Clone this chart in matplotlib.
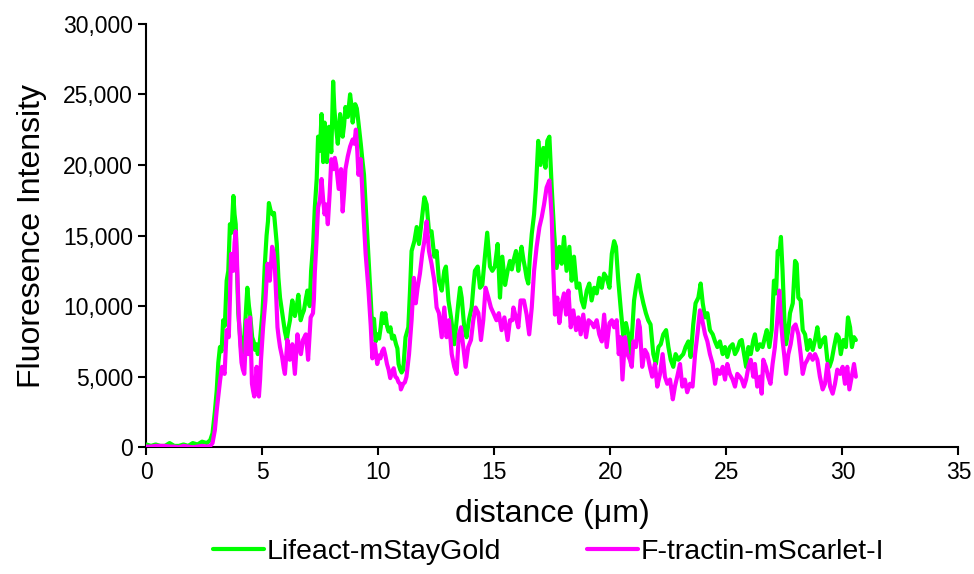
import matplotlib
matplotlib.use("Agg")
import matplotlib.pyplot as plt
from matplotlib.ticker import FuncFormatter
import numpy as np

plt.rcParams['font.family'] = ['Liberation Sans', 'DejaVu Sans']

# ---- data (distance in um, intensity in thousands) ----
green_x = [0, 0.2, 0.4, 0.6, 0.8, 1.0, 1.2, 1.4, 1.6, 1.8, 2.0, 2.2, 2.4, 2.6, 2.75,
           2.85, 2.95, 3.03, 3.1, 3.17, 3.24, 3.31, 3.38, 3.46, 3.53, 3.6, 3.67, 3.75, 3.8, 3.85, 3.9, 3.96,
           4.03, 4.1, 4.18, 4.25, 4.35, 4.42, 4.47, 4.56, 4.62, 4.68, 4.74, 4.8, 4.86, 4.92, 5.0, 5.05, 5.1,
           5.18, 5.24, 5.28, 5.35, 5.43, 5.5, 5.56, 5.62, 5.69, 5.76, 5.83, 5.9, 5.97, 6.05, 6.12, 6.19, 6.24,
           6.29, 6.35, 6.4, 6.48, 6.55, 6.6, 6.65, 6.72, 6.79, 6.87, 6.94, 7.0, 7.04, 7.1, 7.19, 7.26, 7.34,
           7.4, 7.48, 7.55, 7.62, 7.68, 7.73, 7.78, 7.87, 7.97, 8.05, 8.1, 8.15, 8.25, 8.35, 8.46, 8.52, 8.58,
           8.68, 8.78, 8.84, 8.89, 9.0, 9.07, 9.14, 9.24, 9.3, 9.38, 9.48, 9.57, 9.67, 9.74, 9.81, 9.88, 9.95,
           10.03, 10.1, 10.16, 10.23, 10.3, 10.37, 10.44, 10.52, 10.59, 10.67, 10.76, 10.82, 10.87, 10.94,
           11.0, 11.07, 11.17, 11.29, 11.36, 11.43, 11.55, 11.65, 11.75, 11.86, 11.98, 12.08, 12.18, 12.29,
           12.41, 12.51, 12.61, 12.73, 12.84, 12.91, 13.02, 13.13, 13.27, 13.37, 13.45, 13.52, 13.59, 13.7,
           13.8, 13.9, 14.02, 14.1, 14.16, 14.28, 14.38, 14.48, 14.59, 14.69, 14.75, 14.81, 14.91, 15.02,
           15.14, 15.24, 15.34, 15.46, 15.57, 15.67, 15.75, 15.82, 15.93, 16.03, 16.1, 16.17, 16.25, 16.32,
           16.39, 16.46, 16.53, 16.61, 16.71, 16.79, 16.89, 16.99, 17.05, 17.11, 17.2, 17.28, 17.37, 17.47,
           17.57, 17.68, 17.8, 17.9, 18.0, 18.11, 18.23, 18.33, 18.43, 18.55, 18.66, 18.76, 18.86, 18.98,
           19.09, 19.19, 19.3, 19.41, 19.52, 19.63, 19.73, 19.84, 19.96, 20.06, 20.16, 20.24, 20.34, 20.44,
           20.56, 20.67, 20.77, 20.87, 20.95, 21.02, 21.1, 21.2, 21.3, 21.42, 21.53, 21.63, 21.73, 21.85,
           21.96, 22.07, 22.17, 22.28, 22.4, 22.5, 22.6, 22.71, 22.81, 22.93, 23.03, 23.14, 23.24, 23.36,
           23.46, 23.57, 23.67, 23.79, 23.89, 23.98, 24.08, 24.18, 24.29, 24.41, 24.51, 24.61, 24.72, 24.84,
           24.94, 25.04, 25.15, 25.27, 25.37, 25.47, 25.58, 25.66, 25.76, 25.85, 25.95, 26.05, 26.16, 26.23,
           26.33, 26.45, 26.56, 26.66, 26.74, 26.85, 26.95, 27.05, 27.14, 27.21, 27.28, 27.35, 27.42, 27.5,
           27.57, 27.67, 27.74, 27.86, 27.96, 28.03, 28.1, 28.2, 28.29, 28.39, 28.49, 28.6, 28.72, 28.82,
           28.92, 29.03, 29.15, 29.25, 29.35, 29.44, 29.54, 29.64, 29.75, 29.84, 29.93, 30.04, 30.15, 30.24,
           30.33, 30.41, 30.5, 30.58]
green_k = [0.2, 0.1, 0.2, 0.1, 0.1, 0.3, 0.1, 0.1, 0.2, 0.1, 0.3, 0.2, 0.4, 0.3, 0.5,
           1.0, 2.5, 4.0, 6.0, 7.1, 6.8, 9.0, 8.6, 11.8, 12.5, 15.8, 15.2, 17.8, 16.5, 15.8, 13.0, 9.5,
           8.0, 6.6, 7.0, 8.5, 11.3, 10.0, 9.4, 7.8, 7.5, 6.9, 7.3, 6.6, 7.0, 8.0, 9.5, 11.0, 12.8,
           15.0, 16.0, 17.3, 16.8, 16.5, 16.6, 15.5, 14.4, 12.0, 10.6, 9.8, 9.0, 8.2, 7.6, 8.4, 9.0, 9.8,
           10.4, 9.8, 9.3, 10.0, 10.8, 9.8, 9.0, 9.4, 9.7, 10.5, 11.1, 10.5, 10.0, 12.5, 14.4, 17.0, 19.0,
           22.0, 21.0, 23.6, 20.2, 23.0, 21.5, 20.2, 22.7, 20.9, 25.9, 24.0, 23.0, 21.5, 23.6, 22.0, 22.8, 24.1,
           23.4, 25.0, 24.2, 23.0, 24.3, 24.0, 23.0, 21.5, 20.5, 19.3, 16.3, 13.7, 10.5, 8.2, 9.1, 7.5, 8.0,
           7.7, 8.5, 9.5, 8.8, 9.5, 8.6, 8.2, 8.5, 7.7, 7.9, 7.3, 7.0, 5.9, 5.5,
           5.3, 5.5, 7.8, 8.5, 11.0, 13.9, 14.6, 15.6, 14.4, 16.0, 17.7, 17.2, 15.3, 15.3,
           13.5, 13.9, 11.8, 11.1, 12.5, 12.8, 10.4, 9.2, 7.3, 9.0, 10.3, 11.3, 10.6, 8.5,
           7.8, 9.0, 9.9, 11.5, 12.5, 12.8, 11.3, 11.5, 13.5, 15.2, 14.0, 12.8, 12.5, 12.8,
           14.4, 10.6, 13.5, 11.5, 12.5, 13.2, 12.6, 13.2, 13.9, 12.5, 13.5, 14.2, 13.3, 12.7,
           12.0, 11.6, 13.5, 15.1, 16.5, 18.4, 21.7, 20.0, 20.6, 21.2, 19.8, 21.7, 22.0, 18.4,
           15.3, 12.7, 14.2, 13.0, 14.9, 12.5, 14.2, 11.8, 13.5, 11.3, 11.6, 10.4, 9.9, 11.1,
           11.6, 10.4, 11.3, 10.9, 12.0, 11.3, 12.3, 12.0, 11.3, 13.7, 14.6, 14.2, 11.8, 9.9,
           7.8, 8.8, 8.0, 6.6, 8.5, 10.4, 11.3, 12.2, 11.1, 10.2, 9.5, 9.0, 8.7, 6.6,
           5.9, 7.1, 7.3, 8.0, 8.3, 7.1, 6.2, 5.7, 6.6, 6.2, 6.4, 6.6, 7.1, 7.5,
           6.4, 8.7, 10.2, 10.6, 11.6, 10.2, 9.2, 9.5, 8.3, 8.0, 7.5, 7.1, 7.5, 6.6,
           7.1, 6.4, 7.1, 7.3, 6.6, 6.9, 7.5, 7.6, 6.6, 5.7, 7.1, 6.6, 7.6, 8.0,
           6.9, 7.3, 7.1, 7.8, 8.3, 7.1, 8.3, 11.8, 10.9, 13.9, 13.7, 14.9, 12.5, 9.0,
           7.3, 8.3, 9.5, 10.2, 13.2, 13.0, 10.6, 10.4, 8.3, 8.0, 6.9, 7.6, 6.9, 7.6,
           8.5, 7.1, 7.6, 7.8, 6.2, 5.7, 6.2, 7.1, 8.0, 7.8, 6.6, 7.6, 7.1, 9.2,
           8.5, 7.1, 7.8, 7.6]

magenta_x = [0, 0.2, 0.4, 0.6, 0.8, 1.0, 1.2, 1.4, 1.6, 1.8, 2.0, 2.2, 2.4, 2.6, 2.75,
             2.85, 2.95, 3.03, 3.1, 3.18, 3.26, 3.31, 3.37, 3.42, 3.46, 3.55, 3.6, 3.65, 3.7, 3.75, 3.8,
             3.85, 3.9, 3.93, 3.99, 4.05, 4.1, 4.16, 4.22, 4.27, 4.32, 4.36, 4.4, 4.44, 4.47, 4.51, 4.55,
             4.6, 4.65, 4.7, 4.75, 4.8, 4.85, 4.9, 4.94, 5.03, 5.13, 5.18, 5.22, 5.27, 5.32, 5.37, 5.42,
             5.48, 5.53, 5.6, 5.65, 5.7, 5.76, 5.85, 5.92, 5.97, 6.03, 6.08, 6.13, 6.18, 6.24, 6.29, 6.35,
             6.4, 6.45, 6.51, 6.58, 6.66, 6.75, 6.87, 6.93, 6.97, 7.03, 7.08, 7.18, 7.22, 7.26, 7.33, 7.4,
             7.48, 7.55, 7.62, 7.68, 7.75, 7.82, 7.9, 7.97, 8.06, 8.12, 8.18, 8.29, 8.39, 8.46, 8.52, 8.58,
             8.68, 8.78, 8.89, 8.96, 9.03, 9.09, 9.14, 9.24, 9.34, 9.45, 9.57, 9.67, 9.74, 9.8, 9.85, 9.95,
             10.02, 10.09, 10.16, 10.23, 10.3, 10.37, 10.44, 10.51, 10.58, 10.66, 10.73, 10.8, 10.87, 10.94,
             10.97, 11.07, 11.14, 11.21, 11.32, 11.43, 11.53, 11.61, 11.69, 11.79, 11.89, 11.98, 12.08, 12.18,
             12.29, 12.41, 12.51, 12.61, 12.73, 12.84, 12.94, 13.04, 13.16, 13.27, 13.37, 13.47, 13.56, 13.66,
             13.76, 13.87, 13.99, 14.09, 14.19, 14.31, 14.42, 14.52, 14.62, 14.74, 14.85, 14.96, 15.09, 15.19,
             15.31, 15.43, 15.57, 15.67, 15.77, 15.82, 15.93, 16.03, 16.13, 16.27, 16.39, 16.5, 16.61, 16.71,
             16.82, 16.94, 17.04, 17.14, 17.25, 17.37, 17.47, 17.54, 17.61, 17.71, 17.8, 17.9, 18.0, 18.09,
             18.19, 18.29, 18.4, 18.52, 18.62, 18.72, 18.83, 18.95, 19.06, 19.19, 19.29, 19.41, 19.52, 19.63,
             19.73, 19.84, 19.96, 20.06, 20.16, 20.27, 20.36, 20.44, 20.52, 20.63, 20.73, 20.84, 20.92, 20.99,
             21.1, 21.2, 21.27, 21.37, 21.49, 21.59, 21.7, 21.8, 21.92, 22.02, 22.14, 22.25, 22.35, 22.45,
             22.57, 22.69, 22.78, 22.88, 23.0, 23.1, 23.21, 23.31, 23.43, 23.54, 23.65, 23.75, 23.86, 23.96,
             24.08, 24.18, 24.29, 24.41, 24.51, 24.61, 24.72, 24.84, 24.94, 25.04, 25.15, 25.27, 25.37, 25.47,
             25.58, 25.66, 25.76, 25.85, 25.95, 26.05, 26.16, 26.23, 26.33, 26.45, 26.52, 26.59, 26.7, 26.8,
             26.9, 26.99, 27.09, 27.19, 27.28, 27.35, 27.42, 27.5, 27.57, 27.67, 27.77, 27.88, 27.98, 28.1,
             28.2, 28.29, 28.39, 28.49, 28.6, 28.72, 28.82, 28.92, 29.03, 29.15, 29.25, 29.35, 29.47, 29.58,
             29.68, 29.78, 29.9, 30.01, 30.11, 30.21, 30.3, 30.4, 30.5, 30.58]
magenta_k = [0.05, 0.05, 0.1, 0.1, 0.1, 0.05, 0.05, 0.0, 0.1, 0.05, 0.0, 0.05, 0.1, 0.05, 0.1,
             0.3, 1.2, 2.6, 3.6, 4.8, 5.7, 5.5, 5.2, 7.0, 8.3, 7.8, 10.5, 13.7, 13.0, 12.5, 14.5,
             15.3, 13.5, 11.8, 9.0, 7.2, 6.0, 5.5, 5.2, 7.0, 9.0, 8.0, 6.6, 8.0, 9.2, 7.0, 4.5,
             4.0, 3.6, 4.5, 5.7, 4.6, 3.6, 4.8, 6.2, 8.5, 10.4, 11.8, 13.0, 12.5, 11.8, 13.0, 14.2,
             13.8, 13.0, 10.5, 8.5, 7.8, 7.1, 6.4, 5.6, 5.2, 6.5, 7.6, 6.8, 6.2, 6.8, 7.3, 6.2,
             5.2, 6.5, 8.0, 7.2, 6.6, 7.6, 8.0, 7.0, 6.2, 7.8, 9.2, 9.5, 10.5, 12.4, 14.5, 17.0,
             17.5, 19.0, 17.5, 16.5, 17.2, 15.8, 18.0, 20.4, 19.7, 20.5, 20.0, 18.3, 19.7, 16.7, 18.0, 19.7,
             20.6, 21.3, 21.8, 21.5, 22.5, 21.0, 19.3, 20.4, 17.0, 13.7, 11.2, 8.6, 6.3, 7.0, 7.3, 5.9,
             6.5, 6.3, 6.8, 7.0, 6.5, 5.9, 5.5, 4.9, 5.3, 5.6, 5.0, 4.9, 4.6, 4.5,
             4.1, 4.5, 4.6, 5.0, 6.6, 9.0, 12.0, 10.2, 11.3, 12.3, 13.7, 14.6, 16.0, 13.9,
             13.0, 11.8, 9.9, 9.5, 7.8, 9.9, 7.8, 9.0, 6.6, 5.7, 5.2, 8.0, 8.5, 7.1,
             5.7, 7.1, 7.6, 9.0, 9.9, 9.5, 7.6, 9.0, 11.3, 10.6, 9.9, 9.5, 9.0, 9.5,
             8.3, 9.2, 7.6, 9.0, 9.0, 9.9, 9.2, 8.5, 10.4, 10.4, 9.4, 8.0, 9.9, 12.5,
             14.2, 15.6, 16.3, 17.2, 18.4, 18.9, 16.3, 12.5, 9.4, 10.6, 8.8, 10.2, 10.9, 9.4,
             11.1, 8.5, 9.7, 8.3, 9.2, 8.0, 9.4, 7.8, 9.0, 8.8, 8.5, 9.0, 8.0, 7.5,
             9.4, 7.1, 8.8, 9.0, 8.5, 9.0, 6.6, 7.8, 4.8, 7.8, 6.6, 6.2, 5.7, 7.5,
             7.1, 9.0, 8.5, 5.7, 6.9, 6.6, 5.7, 5.0, 5.9, 4.3, 5.2, 6.6, 5.0, 4.5,
             4.8, 3.4, 4.3, 5.0, 5.9, 4.3, 4.8, 3.9, 4.5, 4.3, 6.6, 8.0, 9.7, 9.0,
             8.0, 7.5, 6.6, 5.9, 4.5, 5.5, 5.2, 5.7, 4.8, 5.9, 5.2, 4.8, 4.3, 5.2,
             5.0, 4.8, 4.3, 4.8, 5.7, 6.2, 5.0, 5.9, 4.3, 5.0, 3.8, 6.2, 5.7, 5.0,
             4.5, 5.9, 7.1, 9.0, 11.1, 9.0, 7.6, 6.4, 5.2, 6.6, 7.3, 8.5, 8.7, 8.0,
             6.6, 5.2, 5.9, 6.2, 6.6, 6.2, 6.6, 6.2, 5.0, 4.1, 4.5, 5.9, 4.3, 3.8,
             4.5, 5.5, 5.2, 5.7, 4.5, 5.7, 4.1, 5.0, 5.9, 5.0]

series_labels = ["Lifeact-mStayGold", "F-tractin-mScarlet-I"]
x_ticks = [0, 5, 10, 15, 20, 25, 30, 35]
y_ticks = [0, 5000, 10000, 15000, 20000, 25000, 30000]

# ---- figure ----
fig = plt.figure(figsize=(9.74, 5.74), dpi=100)
ax = fig.add_axes([0.1503, 0.2207, 0.8337, 0.738])

lw = 3.0
ax.plot(green_x, np.array(green_k) * 1000, color='#00ff00', lw=lw,
        solid_joinstyle='round', solid_capstyle='round', label=series_labels[0], zorder=3)
ax.plot(magenta_x, np.array(magenta_k) * 1000, color='#ff00ff', lw=lw,
        solid_joinstyle='round', solid_capstyle='round', label=series_labels[1], zorder=4)

ax.set_xlim(0, 35)
ax.set_ylim(0, 30000)
ax.set_xticks(x_ticks)
ax.set_yticks(y_ticks)
ax.yaxis.set_major_formatter(FuncFormatter(lambda v, p: f"{int(v):,}"))

for s in ['top', 'right']:
    ax.spines[s].set_visible(False)
for s in ['left', 'bottom']:
    ax.spines[s].set_linewidth(1.5)
    ax.spines[s].set_color('black')

ax.tick_params(axis='both', which='major', direction='out', length=5.5, width=1.5,
               labelsize=16.5, colors='black', pad=4)

ax.set_xlabel("distance (μm)", fontsize=23)
ax.set_ylabel("Fluoresence Intensity", fontsize=23)
ax.xaxis.set_label_coords(0.5, -0.122)
ax.yaxis.set_label_coords(-0.123, 0.5)

fig.legend(loc='center', bbox_to_anchor=(0.563, 0.038), ncol=2, frameon=False,
           fontsize=20.5, handlelength=1.8, handletextpad=0.1, columnspacing=3.0,
           borderaxespad=0)

fig.savefig("out.png", dpi=100)
